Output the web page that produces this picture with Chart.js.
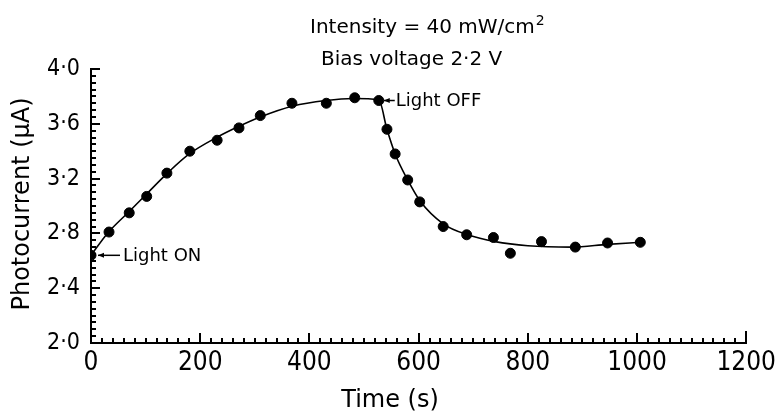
<!DOCTYPE html>
<html>
<head>
<meta charset="utf-8">
<script src="https://cdn.jsdelivr.net/npm/chart.js@4.4.0/dist/chart.umd.min.js"></script>
<style>
  html, body { margin: 0; padding: 0; background: #fff; }
</style>
</head>
<body>
<canvas id="photoChart" width="781" height="412"></canvas>
<script>
// measured points (time in s, photocurrent in uA)
const timeSec = [0, 33, 70, 102, 139, 181, 231, 271, 310, 368, 431, 483, 527, 542, 557, 580, 602, 645, 688, 737, 768, 825, 887, 946, 1006];
const currentUA = [2.64, 2.81, 2.95, 3.07, 3.24, 3.40, 3.48, 3.57, 3.66, 3.75, 3.75, 3.79, 3.77, 3.56, 3.38, 3.19, 3.03, 2.85, 2.79, 2.77, 2.655, 2.74, 2.70, 2.73, 2.735];

// the smooth line drawn through them
const fitTime = [0, 30, 70, 100, 140, 180, 230, 270, 310, 370, 430, 480, 527, 542, 557, 580, 602, 645, 690, 740, 800, 880, 946, 1006];
const fitCurrent = [2.64, 2.80, 2.96, 3.08, 3.24, 3.38, 3.50, 3.58, 3.65, 3.73, 3.77, 3.785, 3.775, 3.56, 3.38, 3.19, 3.04, 2.87, 2.79, 2.74, 2.71, 2.70, 2.72, 2.735];

const xTicks = [0, 200, 400, 600, 800, 1000, 1200];
const yTicks = [2.0, 2.4, 2.8, 3.2, 3.6, 4.0];

const FONT = "'DejaVu Sans', sans-serif";
const COND = "'DejaVu Sans Condensed', 'Liberation Sans Narrow', 'DejaVu Sans', sans-serif";

// inward ticks, arrows and the text labels
const decor = {
  id: "decor",
  afterDraw(chart) {
    const { ctx, scales: { x, y } } = chart;
    const x0 = x.getPixelForValue(0);
    const y0 = y.getPixelForValue(2.0);
    ctx.save();
    ctx.strokeStyle = "#000";
    ctx.fillStyle = "#000";
    ctx.lineWidth = 2;

    ctx.beginPath();
    for (let t = 20; t <= 1200; t += 20) {
      const px = Math.round(x.getPixelForValue(t));
      let len = t % 200 === 0 ? 10 : 5;
      if (t === 1200) len = 12;
      ctx.moveTo(px, y0);
      ctx.lineTo(px, y0 - len);
    }
    for (let v = 2.05; v <= 4.001; v += 0.05) {
      const py = Math.round(y.getPixelForValue(v));
      const major = Math.abs(v * 10 / 4 - Math.round(v * 10 / 4)) < 0.01;
      ctx.moveTo(x0, py);
      ctx.lineTo(x0 + (major ? 9 : 5), py);
    }
    ctx.stroke();

    // arrows
    const arrow = (tipX, tipY, tailX) => {
      ctx.beginPath();
      ctx.lineWidth = 1.5;
      ctx.moveTo(tipX, tipY);
      ctx.lineTo(tailX, tipY);
      ctx.stroke();
      ctx.beginPath();
      ctx.moveTo(tipX, tipY);
      ctx.lineTo(tipX + 6, tipY - 2.5);
      ctx.lineTo(tipX + 6, tipY + 2.5);
      ctx.closePath();
      ctx.fill();
    };
    const onX = x.getPixelForValue(timeSec[0]);
    const onY = y.getPixelForValue(currentUA[0]);
    arrow(onX + 7, onY, onX + 29);
    const offX = x.getPixelForValue(timeSec[12]);
    const offY = y.getPixelForValue(currentUA[12]);
    arrow(offX + 5, offY, offX + 16);

    ctx.font = "18px " + FONT;
    ctx.textBaseline = "middle";
    ctx.textAlign = "left";
    ctx.fillText("Light ON", onX + 32, onY + 1);
    ctx.fillText("Light OFF", offX + 17, offY + 1);

    // heading lines
    ctx.textBaseline = "alphabetic";
    ctx.font = "20px " + FONT;
    const line1 = "Intensity = 40 mW/cm";
    ctx.fillText(line1, 310, 33);
    const w1 = ctx.measureText(line1).width;
    ctx.font = "14px " + FONT;
    ctx.fillText("2", 310 + w1 + 1, 25);
    ctx.font = "20px " + FONT;
    ctx.fillText("Bias voltage 2\u00B72 V", 321, 65);

    // axis titles
    ctx.font = "24px " + FONT;
    ctx.textAlign = "center";
    ctx.fillText("Time (s)", 390, 407);
    ctx.translate(29, 204);
    ctx.rotate(-Math.PI / 2);
    ctx.fillText("Photocurrent (\u03BCA)", 0, 0);
    ctx.restore();
  }
};

new Chart(document.getElementById("photoChart"), {
  type: "scatter",
  data: {
    datasets: [
      {
        label: "measured",
        data: timeSec.map((t, i) => ({ x: t, y: currentUA[i] })),
        backgroundColor: "#000",
        borderColor: "#000",
        pointRadius: 5,
        pointHoverRadius: 5
      },
      {
        label: "fit",
        type: "line",
        data: fitTime.map((t, i) => ({ x: t, y: fitCurrent[i] })),
        borderColor: "#000",
        borderWidth: 1.6,
        pointRadius: 0,
        fill: false,
        cubicInterpolationMode: "monotone"
      }
    ]
  },
  options: {
    responsive: false,
    animation: false,
    layout: { padding: { top: 69, right: 27, left: 0, bottom: 0 } },
    plugins: {
      legend: { display: false },
      tooltip: { enabled: false }
    },
    scales: {
      x: {
        type: "linear",
        min: 0,
        max: 1200,
        afterFit: s => { s.height = 69; },
        afterBuildTicks: s => { s.ticks = xTicks.map(v => ({ value: v })); },
        grid: { display: false, drawTicks: false },
        border: { display: true, color: "#000", width: 2 },
        ticks: {
          autoSkip: false,
          maxRotation: 0,
          padding: 5,
          color: "#000",
          font: { family: COND, size: 26 },
          callback: v => String(v)
        }
      },
      y: {
        type: "linear",
        min: 2.0,
        max: 4.0,
        afterFit: s => { s.width = 91; },
        afterBuildTicks: s => { s.ticks = yTicks.map(v => ({ value: v })); },
        grid: { display: false, drawTicks: false },
        border: { display: true, color: "#000", width: 2 },
        ticks: {
          autoSkip: false,
          padding: 11,
          color: "#000",
          font: { family: COND, size: 23 },
          callback: v => v.toFixed(1).replace(".", "\u00B7")
        }
      }
    }
  },
  plugins: [decor]
});
</script>
</body>
</html>
